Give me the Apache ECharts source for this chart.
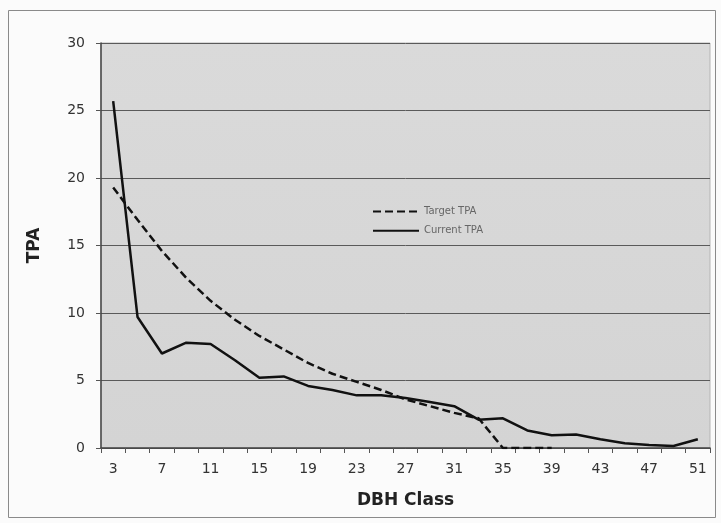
<!DOCTYPE html>
<html>
<head>
<meta charset="utf-8">
<script src="https://cdn.jsdelivr.net/npm/echarts@6/dist/echarts.min.js"></script>
<style>
html,body{margin:0;padding:0;background:#fbfbfb;}
#main{width:721px;height:523px;}
</style>
</head>
<body>
<div id="main"></div>
<script>
// DBH classes (inches)
var dbhClass = [3,5,7,9,11,13,15,17,19,21,23,25,27,29,31,33,35,37,39,41,43,45,47,49,51];
// target curve, ends at 39
var targetTPA = [19.3,16.9,14.6,12.6,10.9,9.5,8.3,7.3,6.3,5.5,4.9,4.3,3.6,3.1,2.6,2.2,0,0,0,null,null,null,null,null,null];
// current stand
var currentTPA = [25.7,9.7,7.0,7.8,7.7,6.5,5.2,5.3,4.6,4.3,3.9,3.9,3.7,3.4,3.1,2.1,2.2,1.3,0.95,1.0,0.65,0.35,0.22,0.15,0.65];
var tpaTicks = [0,5,10,15,20,25,30];

var chart = echarts.init(document.getElementById('main'));
chart.setOption({
	backgroundColor: '#fbfbfb',
	animation: false,
	graphic: [
		{
			type: 'rect',
			shape: {x: 8.5, y: 10.5, width: 707, height: 507},
			style: {fill: 'none', stroke: '#8a8a8a', lineWidth: 1},
			z: -1
		}
	],
	grid: {
		left: 101,
		right: 11,
		top: 43,
		bottom: 75,
		show: true,
		backgroundColor: {
			type: 'linear', x: 0, y: 0, x2: 0, y2: 1,
			colorStops: [{offset: 0, color: '#dadada'}, {offset: 1, color: '#d4d4d4'}]
		},
		borderColor: '#b5b5b5',
		borderWidth: 1
	},
	legend: {
		orient: 'vertical',
		left: 372,
		top: 206,
		padding: 0,
		itemWidth: 46,
		itemHeight: 14,
		itemGap: 8,
		itemStyle: {opacity: 0},
		textStyle: {color: '#666', fontSize: 10, fontFamily: 'DejaVu Sans'},
		data: ['Target TPA', 'Current TPA']
	},
	xAxis: {
		type: 'category',
		data: dbhClass,
		boundaryGap: true,
		name: 'DBH Class',
		nameLocation: 'middle',
		nameGap: 44,
		nameTextStyle: {color: '#222', fontSize: 17, fontWeight: 'bold', fontFamily: 'DejaVu Sans'},
		axisLine: {lineStyle: {color: '#444', width: 1.5}},
		axisTick: {show: true, interval: 0, length: 5, lineStyle: {color: '#555'}},
		axisLabel: {interval: 1, margin: 14, color: '#333', fontSize: 14, fontFamily: 'DejaVu Sans'},
		splitLine: {show: false}
	},
	yAxis: {
		type: 'value',
		min: tpaTicks[0],
		max: tpaTicks[tpaTicks.length - 1],
		interval: 5,
		name: 'TPA',
		nameLocation: 'middle',
		nameGap: 58,
		nameTextStyle: {color: '#222', fontSize: 17, fontWeight: 'bold', fontFamily: 'DejaVu Sans'},
		axisLine: {show: true, lineStyle: {color: '#444', width: 1.5}},
		axisTick: {show: true, length: 5, lineStyle: {color: '#555'}},
		axisLabel: {margin: 16, color: '#333', fontSize: 14, fontFamily: 'DejaVu Sans'},
		splitLine: {lineStyle: {color: '#5a5a5a', width: 1}}
	},
	series: [
		{
			name: 'Target TPA',
			type: 'line',
			data: targetTPA,
			symbol: 'none',
			connectNulls: false,
			lineStyle: {color: '#111', width: 2.5, type: [8, 4]},
			itemStyle: {color: '#111'}
		},
		{
			name: 'Current TPA',
			type: 'line',
			data: currentTPA,
			symbol: 'none',
			lineStyle: {color: '#111', width: 2.5},
			itemStyle: {color: '#111'}
		}
	]
});
</script>
</body>
</html>
